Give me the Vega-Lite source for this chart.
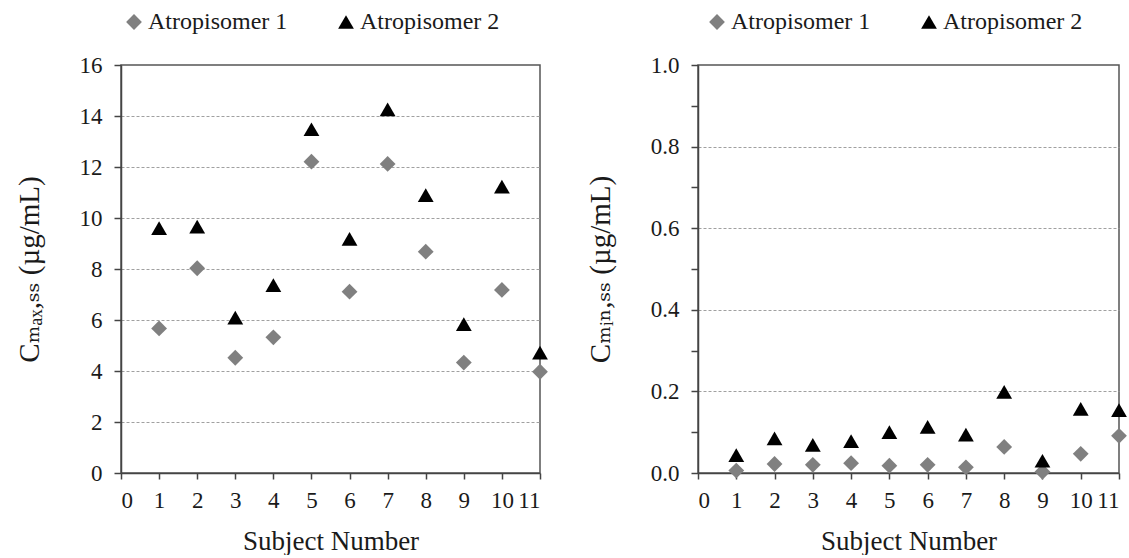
{
  "$schema": "https://vega.github.io/schema/vega-lite/v6.json",
  "padding": {"left": 14, "top": 9, "right": 5, "bottom": 0},
  "background": "white",
  "config": {
    "font": "Liberation Serif, Times New Roman, DejaVu Serif, serif",
    "view": {"stroke": "#555555", "strokeWidth": 1.5},
    "style": {
      "guide-label": {"font": "Liberation Serif, Times New Roman, DejaVu Serif, serif"},
      "guide-title": {"font": "Liberation Serif, Times New Roman, DejaVu Serif, serif"}
    },
    "axis": {
      "domainColor": "#444444",
      "domainWidth": 1.5,
      "tickColor": "#444444",
      "tickWidth": 1.5,
      "tickSize": 7,
      "labelFontSize": 23,
      "labelColor": "#1a1a1a",
      "titleFontWeight": "normal",
      "titleColor": "#1a1a1a",
      "gridColor": "#a0a0a0",
      "gridDash": [3, 2],
      "gridWidth": 1
    },
    "legend": {
      "labelFont": "Liberation Serif, Times New Roman, DejaVu Serif, serif",
      "labelFontSize": 24,
      "labelColor": "#1a1a1a",
      "symbolSize": 120,
      "symbolStrokeWidth": 0,
      "columnPadding": 46,
      "labelOffset": 2
    }
  },
  "datasets": {
    "d": [
      {"subject": 1, "series": "Atropisomer 1", "cmax": 5.67, "cmin": 0.006},
      {"subject": 2, "series": "Atropisomer 1", "cmax": 8.03, "cmin": 0.022},
      {"subject": 3, "series": "Atropisomer 1", "cmax": 4.52, "cmin": 0.020},
      {"subject": 4, "series": "Atropisomer 1", "cmax": 5.32, "cmin": 0.024},
      {"subject": 5, "series": "Atropisomer 1", "cmax": 12.21, "cmin": 0.018},
      {"subject": 6, "series": "Atropisomer 1", "cmax": 7.11, "cmin": 0.020},
      {"subject": 7, "series": "Atropisomer 1", "cmax": 12.12, "cmin": 0.014},
      {"subject": 8, "series": "Atropisomer 1", "cmax": 8.68, "cmin": 0.064},
      {"subject": 9, "series": "Atropisomer 1", "cmax": 4.33, "cmin": 0.003},
      {"subject": 10, "series": "Atropisomer 1", "cmax": 7.18, "cmin": 0.047},
      {"subject": 11, "series": "Atropisomer 1", "cmax": 3.97, "cmin": 0.091},
      {"subject": 1, "series": "Atropisomer 2", "cmax": 9.6, "cmin": 0.044},
      {"subject": 2, "series": "Atropisomer 2", "cmax": 9.66, "cmin": 0.085},
      {"subject": 3, "series": "Atropisomer 2", "cmax": 6.09, "cmin": 0.069},
      {"subject": 4, "series": "Atropisomer 2", "cmax": 7.37, "cmin": 0.078},
      {"subject": 5, "series": "Atropisomer 2", "cmax": 13.48, "cmin": 0.100},
      {"subject": 6, "series": "Atropisomer 2", "cmax": 9.18, "cmin": 0.113},
      {"subject": 7, "series": "Atropisomer 2", "cmax": 14.26, "cmin": 0.094},
      {"subject": 8, "series": "Atropisomer 2", "cmax": 10.9, "cmin": 0.199},
      {"subject": 9, "series": "Atropisomer 2", "cmax": 5.84, "cmin": 0.030},
      {"subject": 10, "series": "Atropisomer 2", "cmax": 11.23, "cmin": 0.157},
      {"subject": 11, "series": "Atropisomer 2", "cmax": 4.72, "cmin": 0.154}
    ]
  },
  "spacing": 36,
  "hconcat": [
    {
      "width": 419,
      "height": 408,
      "data": {"name": "d"},
      "mark": {"type": "point", "filled": true, "opacity": 1, "strokeWidth": 0},
      "encoding": {
        "x": {
          "field": "subject", "type": "quantitative",
          "scale": {"domain": [0, 11], "nice": false, "zero": false},
          "axis": {"values": [0,1,2,3,4,5,6,7,8,9,10,11], "grid": false, "title": "Subject Number",
            "labelFont": "Liberation Serif, Times New Roman, DejaVu Serif, serif",
            "titleFont": "Liberation Serif, Times New Roman, DejaVu Serif, serif",
            "titleFontSize": 27, "labelPadding": 10, "titlePadding": 16, "tickSize": 6}
        },
        "y": {
          "field": "cmax", "type": "quantitative",
          "scale": {"domain": [0, 16], "nice": false},
          "axis": {
            "values": [0,2,4,6,8,10,12,14,16],
            "title": "Cₘₐₓ,ₛₛ (µg/mL)",
            "labelFont": "Liberation Serif, Times New Roman, DejaVu Serif, serif",
            "titleFont": "Liberation Serif, Times New Roman, DejaVu Serif, serif",
            "titleFontSize": 29,
            "titlePadding": 35,
            "labelPadding": 12,
            "grid": true,
            "gridOpacity": {"condition": {"test": "datum.value == 0 || datum.value == 16", "value": 0}, "value": 1}
          }
        },
        "size": {
          "field": "series", "type": "nominal", "legend": null,
          "scale": {"domain": ["Atropisomer 1", "Atropisomer 2"], "range": [250, 250]}
        },
        "shape": {
          "field": "series", "type": "nominal",
          "scale": {"domain": ["Atropisomer 1", "Atropisomer 2"], "range": ["diamond", "triangle-up"]},
          "legend": {"title": null, "orient": "none", "direction": "horizontal", "legendX": 1, "legendY": -55}
        },
        "color": {
          "field": "series", "type": "nominal",
          "scale": {"domain": ["Atropisomer 1", "Atropisomer 2"], "range": ["#808080", "#000000"]},
          "legend": {"title": null, "orient": "none", "direction": "horizontal", "legendX": 1, "legendY": -55}
        }
      }
    },
    {
      "width": 421,
      "height": 408,
      "data": {"name": "d"},
      "mark": {"type": "point", "filled": true, "opacity": 1, "strokeWidth": 0},
      "encoding": {
        "x": {
          "field": "subject", "type": "quantitative",
          "scale": {"domain": [0, 11], "nice": false, "zero": false},
          "axis": {"values": [0,1,2,3,4,5,6,7,8,9,10,11], "grid": false, "title": "Subject Number",
            "labelFont": "Liberation Serif, Times New Roman, DejaVu Serif, serif",
            "titleFont": "Liberation Serif, Times New Roman, DejaVu Serif, serif",
            "titleFontSize": 27, "labelPadding": 10, "titlePadding": 16, "tickSize": 6}
        },
        "y": {
          "field": "cmin", "type": "quantitative",
          "scale": {"domain": [0, 1], "nice": false},
          "axis": {
            "values": [0,0.1,0.2,0.3,0.4,0.5,0.6,0.7,0.8,0.9,1.0],
            "labelExpr": "round(datum.value*10) % 2 == 0 ? format(datum.value, '.1f') : ''",
            "title": "Cₘᵢₙ,ₛₛ (µg/mL)",
            "labelFont": "Liberation Serif, Times New Roman, DejaVu Serif, serif",
            "titleFont": "Liberation Serif, Times New Roman, DejaVu Serif, serif",
            "titleFontSize": 29,
            "titlePadding": 35,
            "labelPadding": 12,
            "grid": true,
            "gridOpacity": {"condition": {"test": "round(datum.value*10) % 2 == 1 || datum.value == 0 || datum.value == 1", "value": 0}, "value": 1}
          }
        },
        "size": {
          "field": "series", "type": "nominal", "legend": null,
          "scale": {"domain": ["Atropisomer 1", "Atropisomer 2"], "range": [250, 250]}
        },
        "shape": {
          "field": "series", "type": "nominal",
          "scale": {"domain": ["Atropisomer 1", "Atropisomer 2"], "range": ["diamond", "triangle-up"]},
          "legend": {"title": null, "orient": "none", "direction": "horizontal", "legendX": 7, "legendY": -55}
        },
        "color": {
          "field": "series", "type": "nominal",
          "scale": {"domain": ["Atropisomer 1", "Atropisomer 2"], "range": ["#808080", "#000000"]},
          "legend": {"title": null, "orient": "none", "direction": "horizontal", "legendX": 7, "legendY": -55}
        }
      }
    }
  ],
  "resolve": {"scale": {"color": "independent", "shape": "independent", "size": "independent"}, "legend": {"color": "independent", "shape": "independent"}}
}
